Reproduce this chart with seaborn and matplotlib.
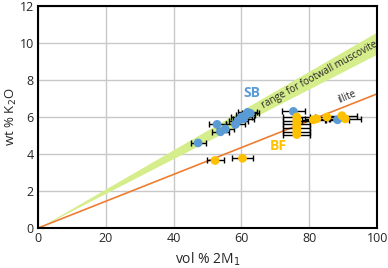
import numpy as np
import pandas as pd
import matplotlib
matplotlib.use("Agg")
import matplotlib.pyplot as plt
import seaborn as sns

# data
sb_x = [47.2, 52.8, 53.8, 55.2, 58.2, 59.0, 60.0, 60.6, 61.2, 61.8, 62.6, 75.3, 88.3]
sb_y = [4.6, 5.6, 5.2, 5.35, 5.6, 5.8, 6.0, 5.9, 6.1, 6.25, 6.2, 6.3, 5.85]
sb_err = [2.2, 2.5, 2.5, 2.5, 2.8, 2.8, 3.0, 3.0, 2.8, 2.8, 2.5, 3.5, 3.5]
bf_x = [52.2, 60.3, 76.3, 76.3, 76.3, 76.3, 76.3, 76.3, 81.2, 82.2, 85.2, 89.6, 90.6]
bf_y = [3.65, 3.77, 6.0, 5.8, 5.6, 5.4, 5.2, 5.05, 5.85, 5.9, 6.0, 6.07, 5.9]
bf_err = [2.5, 3.0, 4.0, 4.0, 4.0, 4.0, 4.0, 4.0, 3.5, 3.5, 3.5, 4.5, 4.5]
band_slope_lo = 0.094
band_slope_hi = 0.106
illite_slope = 0.0725
x_ticks = [0, 20, 40, 60, 80, 100]
y_ticks = [0, 2, 4, 6, 8, 10, 12]

sns.set_style("white")
plt.rcParams['font.family'] = ['Open Sans', 'DejaVu Sans']

fig = plt.figure(figsize=(3.88, 2.68), dpi=100)
ax = fig.add_axes([0.098, 0.149, 0.874, 0.829])

xx = np.array([0, 100])
ax.fill_between(xx, band_slope_lo * xx, band_slope_hi * xx, color="#d6ed8c", lw=0, zorder=1)
ax.plot(xx, illite_slope * xx, color="#ED7D31", lw=1.2, zorder=2)

ax.errorbar(sb_x, sb_y, xerr=sb_err, fmt="none", ecolor="black", elinewidth=1, capsize=2, capthick=1, zorder=3)
ax.errorbar(bf_x, bf_y, xerr=bf_err, fmt="none", ecolor="black", elinewidth=1, capsize=2, capthick=1, zorder=3)

df = pd.DataFrame({"x": sb_x + bf_x, "y": sb_y + bf_y,
                   "grp": ["SB"] * len(sb_x) + ["BF"] * len(bf_x)})
sns.scatterplot(data=df, x="x", y="y", hue="grp", palette={"SB": "#5B9BD5", "BF": "#FFC000"},
                s=40, edgecolor="none", legend=False, ax=ax, zorder=4)

ax.text(83.0, 8.25, "range for footwall muscovite", rotation=28.6, rotation_mode="anchor",
        ha="center", va="center", fontsize=7, color="#222222", zorder=5)
ax.text(91.2, 7.1, "illite", rotation=23, ha="center", va="center", fontsize=7, color="#222222", zorder=5)
ax.text(63.0, 7.3, "SB", color="#5B9BD5", fontsize=10, fontweight="bold", ha="center", va="center")
ax.text(70.8, 4.45, "BF", color="#FFC000", fontsize=10, fontweight="bold", ha="center", va="center")

ax.set_xlim(0, 100)
ax.set_ylim(0, 12)
ax.set_xticks(x_ticks)
ax.set_yticks(y_ticks)
ax.grid(True, color="#c8c8c8", lw=1)
ax.set_axisbelow(True)
for s in ax.spines.values():
    s.set_color("black")
    s.set_linewidth(1.5)
ax.tick_params(labelsize=9, length=0, pad=3)
ax.set_xlabel("vol % 2M$_1$", fontsize=10, labelpad=4)
ax.set_ylabel("wt % K$_2$O", fontsize=9.5)
ax.yaxis.set_label_coords(-0.055, 0.5)

fig.savefig("out.png", dpi=100)
